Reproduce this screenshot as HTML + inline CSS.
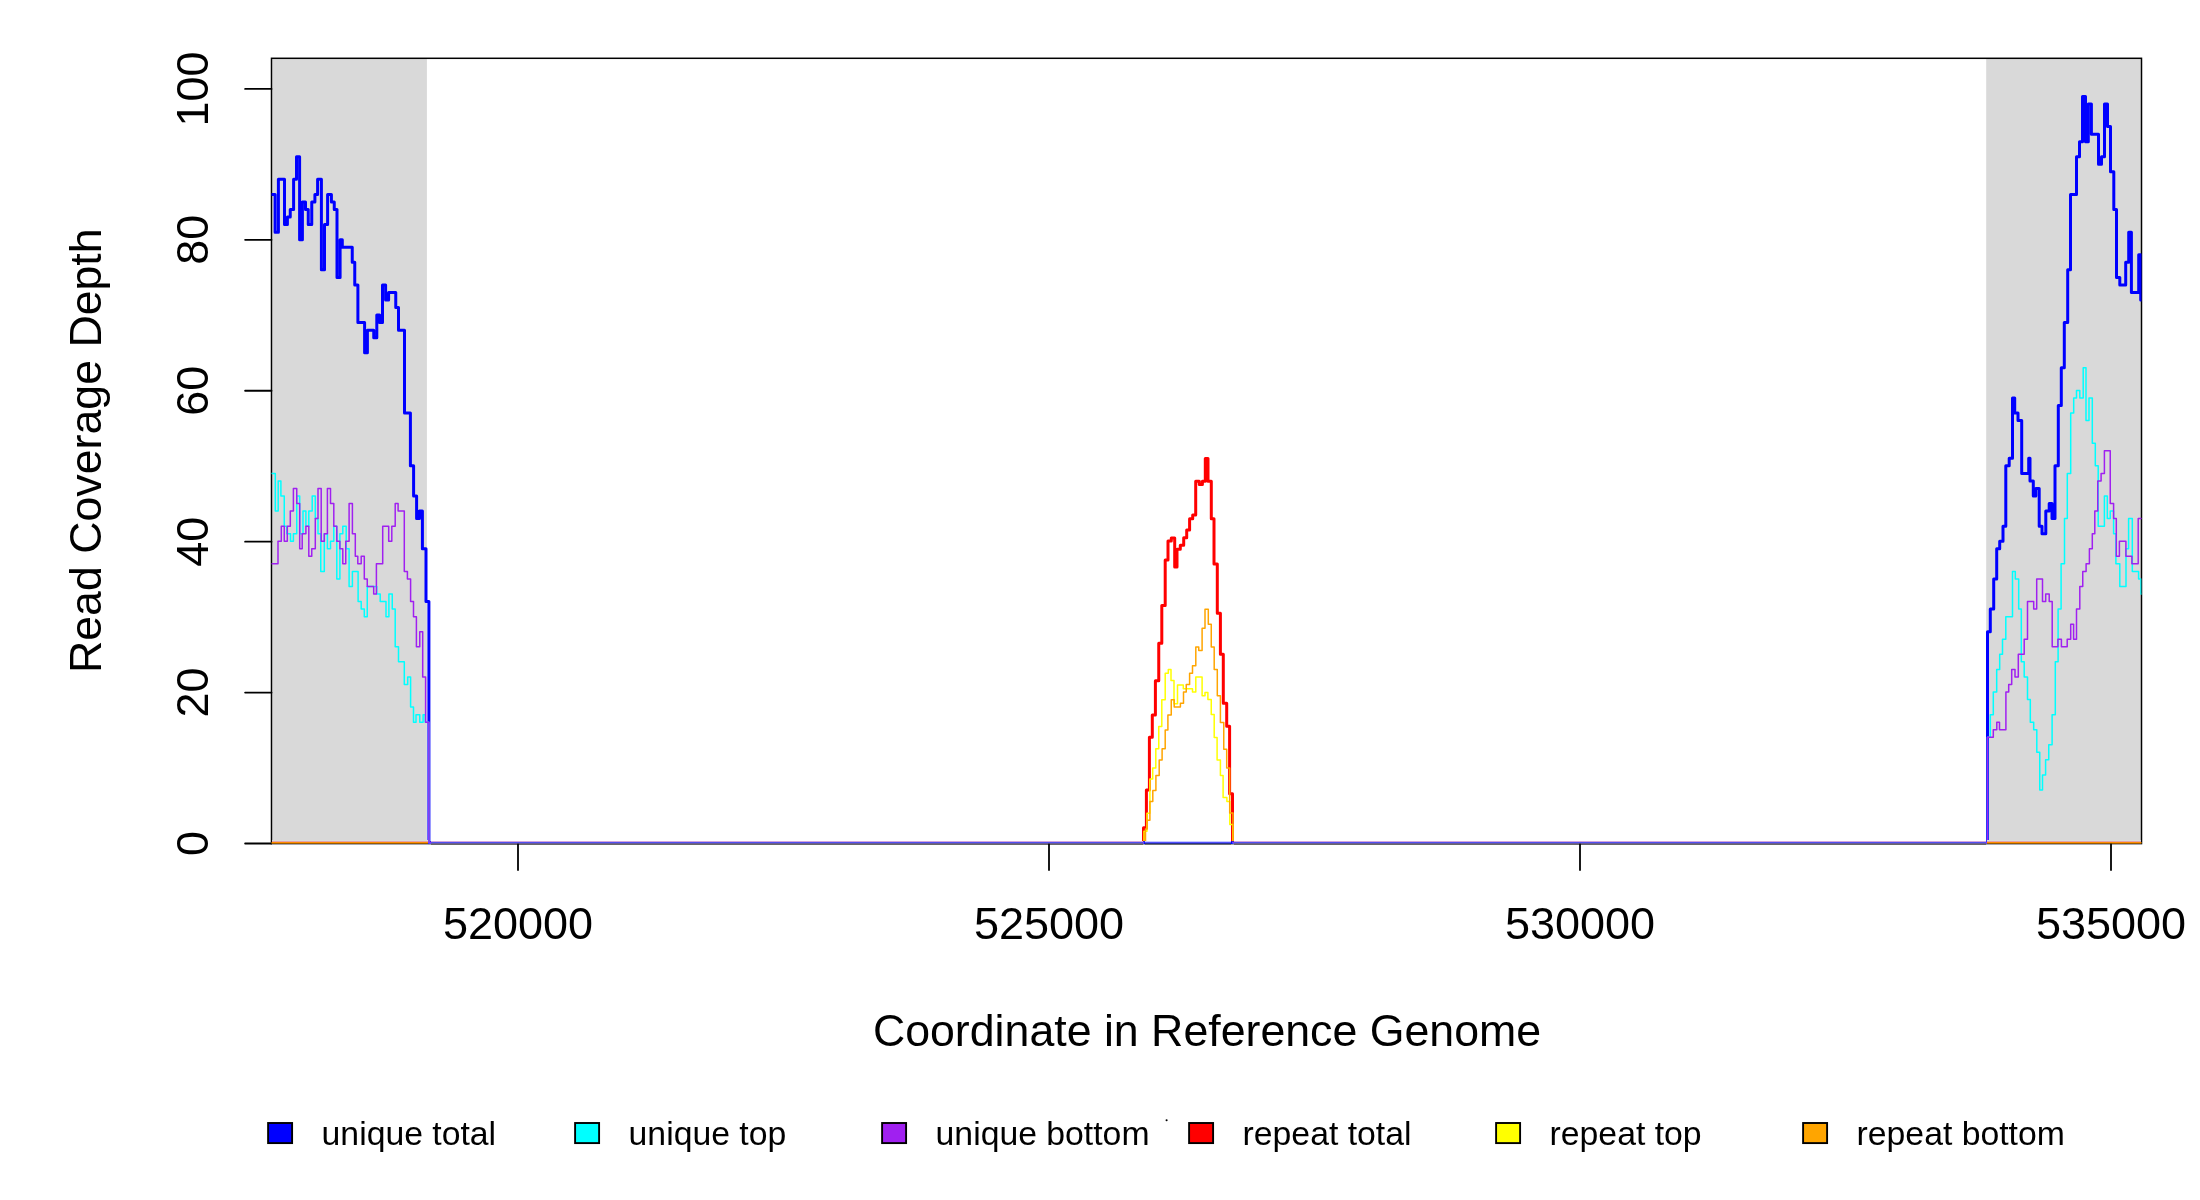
<!DOCTYPE html><html><head><meta charset="utf-8"><style>html,body{margin:0;padding:0;background:#fff;overflow:hidden}svg{display:block;will-change:transform}text{font-family:"Liberation Sans",sans-serif;fill:#000}</style></head><body>
<svg width="2200" height="1200" viewBox="0 0 2200 1200">
<rect x="0" y="0" width="2200" height="1200" fill="#fff"/>
<rect x="272.3" y="59" width="154.6" height="784" fill="#d9d9d9"/>
<rect x="1986.2" y="59" width="154.6" height="784" fill="#d9d9d9"/>
<rect x="271.5" y="58.3" width="1870.0" height="785.3" fill="none" stroke="#000" stroke-width="1.5"/>
<line x1="245.1" y1="843.50" x2="271.5" y2="843.50" stroke="#000" stroke-width="1.8" stroke-linecap="round"/>
<text transform="translate(207.9,843.50) rotate(-90)" text-anchor="middle" font-size="45">0</text>
<line x1="245.1" y1="692.58" x2="271.5" y2="692.58" stroke="#000" stroke-width="1.8" stroke-linecap="round"/>
<text transform="translate(207.9,692.58) rotate(-90)" text-anchor="middle" font-size="45">20</text>
<line x1="245.1" y1="541.66" x2="271.5" y2="541.66" stroke="#000" stroke-width="1.8" stroke-linecap="round"/>
<text transform="translate(207.9,541.66) rotate(-90)" text-anchor="middle" font-size="45">40</text>
<line x1="245.1" y1="390.74" x2="271.5" y2="390.74" stroke="#000" stroke-width="1.8" stroke-linecap="round"/>
<text transform="translate(207.9,390.74) rotate(-90)" text-anchor="middle" font-size="45">60</text>
<line x1="245.1" y1="239.82" x2="271.5" y2="239.82" stroke="#000" stroke-width="1.8" stroke-linecap="round"/>
<text transform="translate(207.9,239.82) rotate(-90)" text-anchor="middle" font-size="45">80</text>
<line x1="245.1" y1="88.90" x2="271.5" y2="88.90" stroke="#000" stroke-width="1.8" stroke-linecap="round"/>
<text transform="translate(207.9,88.90) rotate(-90)" text-anchor="middle" font-size="45">100</text>
<text x="518" y="939" text-anchor="middle" font-size="45">520000</text>
<text x="1049" y="939" text-anchor="middle" font-size="45">525000</text>
<text x="1580" y="939" text-anchor="middle" font-size="45">530000</text>
<text x="2111" y="939" text-anchor="middle" font-size="45">535000</text>
<text x="1207" y="1045.8" text-anchor="middle" font-size="44.7">Coordinate in Reference Genome</text>
<text transform="translate(101,450.7) rotate(-90)" text-anchor="middle" font-size="44.7">Read Coverage Depth</text>
<defs><clipPath id="pc"><rect x="271.5" y="58" width="1870" height="786"/></clipPath></defs><g clip-path="url(#pc)">
<path d="M1140 842.8 H1143.5 V827.8 H1146.4 V790.1 H1149.4 V737.3 H1152.3 V715 H1155.4 V680.8 H1158.75 V643.2 H1161.8 V605.4 H1165.2 V560 H1168 V541 H1171.3 V538 H1174.7 V567 H1177 V549.3 H1180.3 V545.3 H1183.7 V537.7 H1186.7 V530 H1189.6 V518.7 H1192.7 V515 H1195.7 V481.3 H1199.3 V484.4 H1202.4 V481.3 H1205.3 V458.4 H1208 V481.3 H1211.3 V518.7 H1214 V564 H1217.3 V613.2 H1220.4 V654.3 H1223.3 V703.3 H1226.7 V726.25 H1229.6 V793.7 H1232.5 V842.4 H1237" stroke="#ff0000" stroke-width="3" fill="none" stroke-linejoin="round" stroke-linecap="round"/>
<path d="M1140 842.8 H1144 V831.3 H1147 V813.2 H1149.9 V779 H1152.7 V768 H1155.8 V748.75 H1158.75 V726.5 H1161.8 V699.8 H1165.2 V673.3 H1168.3 V669.6 H1171 V680.4 H1174 V703.75 H1177.5 V685 H1183.3 V688.75 H1192.5 V692.1 H1195.8 V677.1 H1202.1 V695.8 H1205 V692.5 H1207.9 V699.6 H1211.25 V714.6 H1214.2 V737.5 H1217.1 V760 H1220.4 V775.4 H1223.1 V797.5 H1226.9 V801.5 H1229.8 V824.6 H1232.8 V842.4 H1237" stroke="#ffff00" stroke-width="1.5" fill="none" stroke-linejoin="round" stroke-linecap="round"/>
<path d="M271.5 842.8 H428.9 M1986.5 842.8 H2141.5 M1140 842.8 H1145.5 V829 H1147.25 V820.2 H1149.9 V801.5 H1152.8 V790.4 H1155.9 V775.4 H1159.2 V760 H1162.1 V748.75 H1165.2 V730 H1167.9 V715 H1171.25 V699.8 H1174.2 V707 H1180.4 V703.3 H1183.5 V692.1 H1186.25 V684.6 H1189.6 V673.3 H1192.5 V665.8 H1195.8 V647.1 H1198.75 V650.4 H1202.1 V628.3 H1205 V609.2 H1208.3 V624.2 H1211.25 V647.1 H1214.2 V669.6 H1217.3 V695.8 H1220.4 V722.5 H1223.75 V749.2 H1226.7 V768 H1229.7 V813 H1233 V842.4 H1237" stroke="#ffa500" stroke-width="1.5" fill="none" stroke-linejoin="round" stroke-linecap="round"/>
<path d="M271.5 194.45 H275.1 V232.14 H278.4 V179.37 H284.5 V224.6 H287.4 V217.06 H290.25 V209.52 H293.6 V179.37 H296.5 V156.75 H299.6 V239.68 H302.4 V201.99 H305.5 V209.52 H308.25 V224.6 H311.75 V201.99 H314.9 V194.45 H317.6 V179.37 H321.4 V269.84 H324.5 V224.6 H327.6 V194.45 H331.4 V201.99 H334.25 V209.52 H337 V277.38 H340.1 V239.68 H342.3 V247.22 H352.25 V262.3 H354.75 V284.91 H357.9 V322.61 H364.6 V352.76 H367.4 V330.15 H373.75 V337.69 H376.8 V315.07 H379.6 V322.61 H382.5 V284.91 H385.6 V299.99 H388.6 V292.45 H395.75 V307.53 H398.5 V330.15 H404.5 V413.08 H410.4 V465.85 H413.6 V496.01 H416.6 V518.62 H419.4 V511.08 H422.4 V548.78 H426 V601.55 H428.9 V842.8 H1987.5 V631.71 H1990.3 V609.09 H1993.7 V578.93 H1996.7 V548.78 H1999.7 V541.24 H2003 V526.16 H2005.8 V465.85 H2009.2 V458.31 H2012.5 V398 H2014.7 V413.08 H2018 V420.62 H2021.7 V473.39 H2028.7 V458.31 H2030 V480.93 H2033.3 V496.01 H2035.8 V488.47 H2039.2 V526.16 H2042 V533.7 H2045.8 V511.08 H2049.2 V503.54 H2052 V518.62 H2055 V465.85 H2058.3 V405.54 H2061.3 V367.84 H2064.3 V322.61 H2067.7 V269.84 H2070.5 V194.45 H2076.5 V156.75 H2079.5 V141.67 H2082.5 V96.44 H2085.5 V141.67 H2088.3 V103.98 H2091.4 V134.13 H2098.5 V164.29 H2101.5 V156.75 H2104.5 V103.98 H2107.5 V126.6 H2110.5 V171.83 H2113.8 V209.52 H2116.5 V277.38 H2119.8 V284.91 H2125.7 V262.3 H2128.7 V232.14 H2131.4 V292.45 H2138.7 V254.76 H2140.7 V299.99 H2141.5" stroke="#0000ff" stroke-width="3" fill="none" stroke-linejoin="round" stroke-linecap="round"/>
<path d="M271.5 473.39 H275.3 V511.08 H278.2 V480.93 H280.9 V496.01 H284.25 V526.16 H286.75 V533.7 H290.5 V541.24 H293.4 V533.7 H296.75 V496.01 H299.7 V533.7 H303 V511.08 H305.9 V526.16 H308.8 V511.08 H312.2 V496.01 H315.3 V518.62 H318 V533.7 H320.75 V571.4 H324.3 V533.7 H327.4 V548.78 H330.5 V541.24 H333.8 V526.16 H336.8 V578.93 H339.9 V533.7 H342.8 V526.16 H346.2 V548.78 H349.1 V586.47 H352.4 V571.4 H358.1 V601.55 H361.2 V609.09 H364.3 V616.63 H367.25 V586.47 H376.8 V594.01 H380.2 V601.55 H386 V616.63 H388.9 V594.01 H392.25 V609.09 H395.2 V646.79 H398.5 V661.86 H404.3 V684.48 H407.7 V676.94 H410.6 V707.1 H413.5 V722.18 H416 V714.64 H419.75 V722.18 H423.1 V714.64 H425.2 V722.18 H428.9 V842.8 H1143.5 M1233 842.8 H1987.5 V737.25 H1990.3 V714.64 H1993.3 V692.02 H1996.7 V669.4 H1999.7 V654.32 H2002.5 V639.25 H2005.8 V616.63 H2012.5 V571.4 H2015.3 V578.93 H2018.7 V609.09 H2021.3 V661.86 H2024.2 V676.94 H2027.5 V699.56 H2030.3 V722.18 H2033.7 V729.71 H2036.8 V752.33 H2039.75 V790.03 H2042.5 V774.95 H2045.6 V759.87 H2048.75 V744.79 H2052.1 V714.64 H2055.3 V661.86 H2058.1 V609.09 H2061.1 V563.86 H2064.5 V518.62 H2067.3 V473.39 H2070.7 V413.08 H2073.7 V398 H2076.5 V390.46 H2079.8 V398 H2083.2 V367.84 H2086 V420.62 H2089 V398 H2092.3 V443.23 H2095.3 V465.85 H2098.2 V526.16 H2104.4 V496.01 H2107.3 V518.62 H2110.25 V511.08 H2113.6 V533.7 H2115.9 V563.86 H2119.8 V586.47 H2126 V548.78 H2128.6 V518.62 H2132.3 V571.4 H2138.6 V578.93 H2141 V594.01 H2141.5" stroke="#00ffff" stroke-width="1.5" fill="none" stroke-linejoin="round" stroke-linecap="round"/>
<path d="M271.5 563.86 H278 V541.24 H281.3 V526.16 H284.25 V541.24 H287.3 V526.16 H290.3 V511.08 H293.4 V488.47 H296.75 V503.54 H299.7 V548.78 H302.2 V533.7 H305.9 V526.16 H308.8 V556.32 H311.75 V548.78 H315.3 V518.62 H318 V488.47 H321.2 V541.24 H324.3 V533.7 H327.4 V488.47 H330.5 V503.54 H333.8 V526.16 H336.8 V541.24 H339.9 V548.78 H342.8 V563.86 H345.75 V541.24 H349.1 V503.54 H352.4 V533.7 H355.3 V556.32 H357.8 V563.86 H361.2 V556.32 H364.3 V578.93 H367.25 V586.47 H373.7 V594.01 H376.4 V563.86 H382.7 V526.16 H388.7 V541.24 H391.8 V526.16 H395.2 V503.54 H398.1 V511.08 H404.3 V571.4 H407.4 V578.93 H410.6 V601.55 H413.5 V616.63 H416.4 V646.79 H419.75 V631.71 H422.7 V676.94 H425.6 V722.18 H428.9 V842.8 H1143.5 M1233 842.8 H1987.5 V737.25 H1993.3 V729.71 H1996.8 V722.18 H1999.5 V729.71 H2005.9 V692.02 H2008.7 V684.48 H2011.7 V669.4 H2015 V676.94 H2018.3 V654.32 H2024.2 V639.25 H2027.5 V601.55 H2033.7 V609.09 H2036.7 V578.93 H2042.5 V601.55 H2045.7 V594.01 H2049.2 V601.55 H2052.2 V646.79 H2057.9 V639.25 H2061.4 V646.79 H2067.2 V639.25 H2070.7 V624.17 H2073.6 V639.25 H2076.5 V609.09 H2079.8 V586.47 H2082.75 V571.4 H2086.1 V563.86 H2089.4 V548.78 H2092.3 V533.7 H2094.8 V511.08 H2097.75 V480.93 H2101.1 V473.39 H2104.4 V450.77 H2110.25 V503.54 H2113.6 V518.62 H2116.3 V556.32 H2119.4 V541.24 H2125.9 V556.32 H2131.9 V563.86 H2138.2 V518.62 H2141.5" stroke="#a020f0" stroke-width="1.5" fill="none" stroke-linejoin="round" stroke-linecap="round"/>
</g>
<rect x="272" y="840" width="156" height="1" fill="#d8dcdc" shape-rendering="crispEdges"/>
<rect x="272" y="841" width="156" height="1" fill="#e2a2aa" shape-rendering="crispEdges"/>
<rect x="272" y="842" width="156" height="1" fill="#ff8c00" shape-rendering="crispEdges"/>
<rect x="272" y="843" width="156" height="1" fill="#9a5a00" shape-rendering="crispEdges"/>
<rect x="272" y="844" width="156" height="1" fill="#a4a8b4" shape-rendering="crispEdges"/>
<rect x="1987" y="840" width="154" height="1" fill="#d8dcdc" shape-rendering="crispEdges"/>
<rect x="1987" y="841" width="154" height="1" fill="#e2a2aa" shape-rendering="crispEdges"/>
<rect x="1987" y="842" width="154" height="1" fill="#ff8c00" shape-rendering="crispEdges"/>
<rect x="1987" y="843" width="154" height="1" fill="#9a5a00" shape-rendering="crispEdges"/>
<rect x="1987" y="844" width="154" height="1" fill="#a4a8b4" shape-rendering="crispEdges"/>
<rect x="431" y="841" width="712" height="1" fill="#d4a4dc" shape-rendering="crispEdges"/>
<rect x="431" y="842" width="712" height="1" fill="#5050f0" shape-rendering="crispEdges"/>
<rect x="431" y="843" width="712" height="1" fill="#6a5a95" shape-rendering="crispEdges"/>
<rect x="431" y="844" width="712" height="1" fill="#686868" shape-rendering="crispEdges"/>
<rect x="1234" y="841" width="752" height="1" fill="#d4a4dc" shape-rendering="crispEdges"/>
<rect x="1234" y="842" width="752" height="1" fill="#5050f0" shape-rendering="crispEdges"/>
<rect x="1234" y="843" width="752" height="1" fill="#6a5a95" shape-rendering="crispEdges"/>
<rect x="1234" y="844" width="752" height="1" fill="#686868" shape-rendering="crispEdges"/>
<rect x="1145" y="841" width="86" height="1" fill="#c8c8ff" shape-rendering="crispEdges"/>
<rect x="1145" y="842" width="86" height="1" fill="#5050ff" shape-rendering="crispEdges"/>
<rect x="1145" y="843" width="86" height="1" fill="#283090" shape-rendering="crispEdges"/>
<rect x="1145" y="844" width="86" height="1" fill="#707070" shape-rendering="crispEdges"/>
<line x1="518" y1="844.5" x2="518" y2="870.1" stroke="#000" stroke-width="1.8" stroke-linecap="round"/>
<line x1="1049" y1="844.5" x2="1049" y2="870.1" stroke="#000" stroke-width="1.8" stroke-linecap="round"/>
<line x1="1580" y1="844.5" x2="1580" y2="870.1" stroke="#000" stroke-width="1.8" stroke-linecap="round"/>
<line x1="2111" y1="844.5" x2="2111" y2="870.1" stroke="#000" stroke-width="1.8" stroke-linecap="round"/>
<rect x="268.1" y="1123" width="24" height="20.1" fill="#0000ff" stroke="#000" stroke-width="1.9"/>
<text x="321.6" y="1144.6" font-size="33.75">unique total</text>
<rect x="575.1" y="1123" width="24" height="20.1" fill="#00ffff" stroke="#000" stroke-width="1.9"/>
<text x="628.6" y="1144.6" font-size="33.75">unique top</text>
<rect x="882.1" y="1123" width="24" height="20.1" fill="#a020f0" stroke="#000" stroke-width="1.9"/>
<text x="935.6" y="1144.6" font-size="33.75">unique bottom</text>
<rect x="1189.1" y="1123" width="24" height="20.1" fill="#ff0000" stroke="#000" stroke-width="1.9"/>
<text x="1242.6" y="1144.6" font-size="33.75">repeat total</text>
<rect x="1496.1" y="1123" width="24" height="20.1" fill="#ffff00" stroke="#000" stroke-width="1.9"/>
<text x="1549.6" y="1144.6" font-size="33.75">repeat top</text>
<rect x="1803.1" y="1123" width="24" height="20.1" fill="#ffa500" stroke="#000" stroke-width="1.9"/>
<text x="1856.6" y="1144.6" font-size="33.75">repeat bottom</text>
<circle cx="1166.6" cy="1120.3" r="1.05" fill="#000"/>
</svg></body></html>
